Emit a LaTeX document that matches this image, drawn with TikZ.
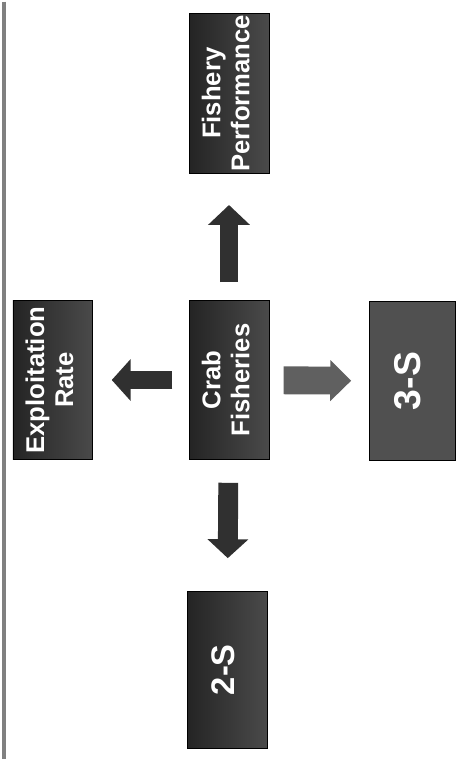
\documentclass[tikz,border=0pt]{standalone}
\usepackage{fontspec}
\setmainfont{Liberation Sans}
\usepackage{graphicx}
\usetikzlibrary{arrows.meta}
\definecolor{boxdark}{HTML}{242424}
\definecolor{boxlight}{HTML}{4A4A4A}
\definecolor{boxmid}{HTML}{505050}
\definecolor{arrdark}{HTML}{303030}
\definecolor{arrgray}{HTML}{606060}
\newcommand{\vtext}[1]{\rotatebox{90}{\begin{tabular}{@{}c@{}}#1\end{tabular}}}

\begin{document}
\begin{tikzpicture}[
    x=0.03cm, y=-0.03cm,
    box/.style={draw=black, line width=0.4pt, left color=boxdark, right color=boxlight,
                minimum width=2.4cm, minimum height=4.8cm, inner sep=0pt,
                text=white, font=\fontsize{22}{25}\selectfont\bfseries},
    blockarr/.style={-{Triangle[width=1.23cm, length=0.6cm]}, line width=0.57cm, draw=arrdark},
]
\fill[white] (0,0) rectangle (464,761);
\draw[black!50, line width=0.1cm] (4,0) -- (4,761);

\node[box] (crab) at (230,380) {\vtext{Crab\\Fisheries}};
\node[box] (fish) at (230,92) {\vtext{Fishery\\Performance}};
\node[box] (expl) at (53,380) {\vtext{Exploitation\\Rate}};
\node[box, fill=boxmid, left color=boxmid, right color=boxmid, minimum width=2.58cm,
      font=\fontsize{32}{36}\selectfont\bfseries] (three) at (414,381) {\vtext{3-S}};
\node[box, minimum height=4.71cm, font=\fontsize{28}{32}\selectfont\bfseries] (two) at (228,671) {\vtext{2-S}};

\draw[blockarr, shorten <=0.54cm, shorten >=0.96cm] (crab) -- (fish);
\draw[blockarr, -{Triangle[width=1.23cm, length=0.57cm]}, shorten <=0.5cm, shorten >=0.57cm] (crab) -- (expl);
\draw[blockarr, -{Triangle[width=1.2cm, length=0.63cm]}, line width=0.84cm, draw=arrgray,
      shorten <=0.44cm, shorten >=0.54cm] (crab) -- (three);
\draw[blockarr, -{Triangle[width=1.2cm, length=0.57cm]}, line width=0.6cm,
      shorten <=0.69cm, shorten >=1.0cm] (crab) -- (two);
\end{tikzpicture}
\end{document}
